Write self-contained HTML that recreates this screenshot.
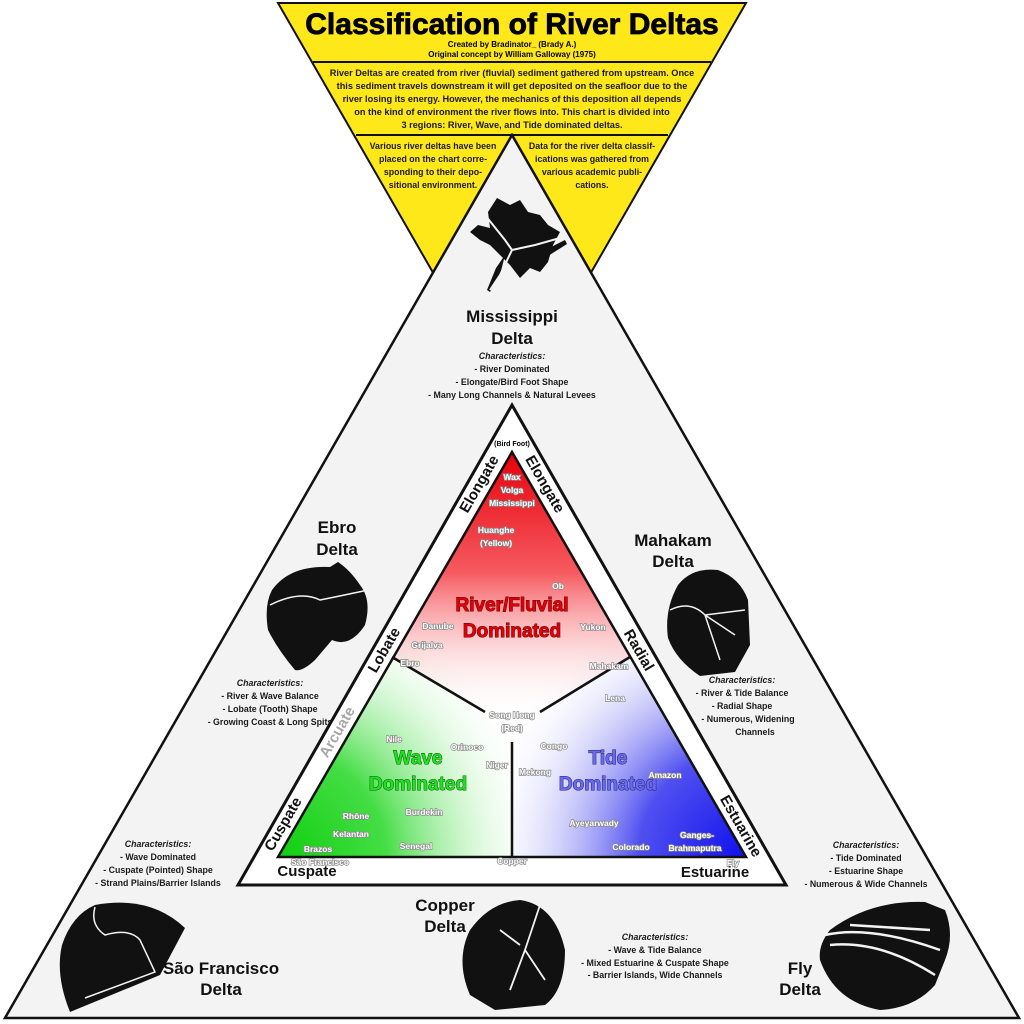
<!DOCTYPE html>
<html><head><meta charset="utf-8"><style>
html,body{margin:0;padding:0;background:#fff;}
svg{display:block;}
text{font-family:"Liberation Sans",sans-serif;font-weight:bold;}
.t{font-size:8.8px;text-anchor:middle;fill:#1a1a1a;}
.y{font-size:9.2px;text-anchor:middle;fill:#1a1a1a;}
.n{font-size:17px;text-anchor:middle;fill:#111;}
.r{font-size:8.5px;text-anchor:middle;fill:#fff;stroke:#8a8a8a;stroke-width:1.4;paint-order:stroke;}
.b{font-size:15px;text-anchor:middle;fill:#111;}
</style></head><body>
<svg width="1024" height="1024" viewBox="0 0 1024 1024" xmlns="http://www.w3.org/2000/svg">
<defs>
<linearGradient id="red" x1="0" y1="452" x2="0" y2="720" gradientUnits="userSpaceOnUse">
<stop offset="0" stop-color="#e8000a"/><stop offset="0.45" stop-color="#f55a60"/><stop offset="1" stop-color="#fff" stop-opacity="0"/></linearGradient>
<radialGradient id="grn" cx="278" cy="857" r="270" gradientUnits="userSpaceOnUse">
<stop offset="0" stop-color="#0fcf0f"/><stop offset="0.4" stop-color="#45dd45"/><stop offset="1" stop-color="#fff" stop-opacity="0"/></radialGradient>
<radialGradient id="blu" cx="746" cy="857" r="270" gradientUnits="userSpaceOnUse">
<stop offset="0" stop-color="#1010ee"/><stop offset="0.4" stop-color="#5050f0"/><stop offset="1" stop-color="#fff" stop-opacity="0"/></radialGradient>
<clipPath id="ct"><polygon points="512,452 746,857 278,857"/></clipPath>
</defs>
<rect width="1024" height="1024" fill="#fff"/>
<polygon points="278,3 746,3 512,410" fill="#ffe81a" stroke="#111" stroke-width="2"/>
<line x1="313" y1="62" x2="711" y2="62" stroke="#111" stroke-width="2"/>
<line x1="356" y1="135" x2="668" y2="135" stroke="#111" stroke-width="2"/>
<text x="512" y="34" text-anchor="middle" style="font-size:30px;font-weight:900;fill:#000;stroke:#000;stroke-width:0.8">Classification of River Deltas</text>
<text x="512" y="47" style="font-size:8px;text-anchor:middle">Created by Bradinator_ (Brady A.)</text>
<text x="512" y="57" style="font-size:8px;text-anchor:middle">Original concept by William Galloway (1975)</text>
<text class="y" x="512" y="76">River Deltas are created from river (fluvial) sediment gathered from upstream. Once</text>
<text class="y" x="512" y="89">this sediment travels downstream it will get deposited on the seafloor due to the</text>
<text class="y" x="512" y="102">river losing its energy. However, the mechanics of this deposition all depends</text>
<text class="y" x="512" y="115">on the kind of environment the river flows into. This chart is divided into</text>
<text class="y" x="512" y="128">3 regions: River, Wave, and Tide dominated deltas.</text>
<text class="t" x="433" y="149">Various river deltas have been</text>
<text class="t" x="433" y="162">placed on the chart corre-</text>
<text class="t" x="433" y="175">sponding to their depo-</text>
<text class="t" x="433" y="188">sitional environment.</text>
<text class="t" x="592" y="149">Data for the river delta classif-</text>
<text class="t" x="592" y="162">ications was gathered from</text>
<text class="t" x="592" y="175">various academic publi-</text>
<text class="t" x="592" y="188">cations.</text>
<polygon points="512,135 1019,1018 5,1018" fill="#f3f3f3" stroke="#111" stroke-width="2.5"/>
<g fill="#111">
<path d="M497,198 L510,205 L520,200 L528,212 L540,215 L548,225 L560,232 L553,245 L548,262 L540,272 L530,268 L520,278 L510,265 L500,255 L490,245 L480,240 L470,232 L478,225 L490,228 L488,212 Z"/>
<path d="M505,255 L500,275 L490,292 L487,290 L496,268 Z"/>
<path d="M545,250 L565,240 L567,244 L548,256 Z"/>
</g>
<path d="M485,215 L505,240 L512,250 L500,275 L490,290 M512,250 L535,245 L560,238" stroke="#f3f3f3" stroke-width="2" fill="none"/>
<text class="n" x="512" y="322">Mississippi</text>
<text class="n" x="512" y="344">Delta</text>
<text class="t" x="512" y="359" font-style="italic">Characteristics:</text>
<text class="t" x="512" y="372">- River Dominated</text>
<text class="t" x="512" y="385">- Elongate/Bird Foot Shape</text>
<text class="t" x="512" y="398">- Many Long Channels &amp; Natural Levees</text>
<text class="n" x="337" y="533">Ebro</text>
<text class="n" x="337" y="555">Delta</text>
<path d="M272,590 Q290,565 330,567 L338,562 Q350,570 360,585 Q372,600 365,625 Q350,648 332,640 L315,660 Q302,672 295,670 Q278,650 268,630 Q264,605 272,590 Z" fill="#111"/>
<path d="M270,605 Q300,590 320,600 Q345,595 368,590" stroke="#f3f3f3" stroke-width="1.5" fill="none"/>
<text class="t" x="270" y="686" font-style="italic">Characteristics:</text>
<text class="t" x="270" y="699">- River &amp; Wave Balance</text>
<text class="t" x="270" y="712">- Lobate (Tooth) Shape</text>
<text class="t" x="270" y="725">- Growing Coast &amp; Long Spits</text>
<text class="n" x="673" y="546">Mahakam</text>
<text class="n" x="673" y="567">Delta</text>
<path d="M718,570 Q692,567 678,585 Q664,610 668,638 Q676,660 700,676 L735,672 L750,645 L748,600 Q740,578 718,570 Z" fill="#111"/>
<path d="M670,610 Q690,600 705,615 L735,635 M705,615 L720,660 M705,615 L745,610" stroke="#f3f3f3" stroke-width="1.5" fill="none"/>
<text class="t" x="742" y="683" font-style="italic">Characteristics:</text>
<text class="t" x="742" y="696">- River &amp; Tide Balance</text>
<text class="t" x="742" y="709">- Radial Shape</text>
<text class="t" x="748" y="722">- Numerous, Widening</text>
<text class="t" x="755" y="735">Channels</text>
<text class="t" x="158" y="847" font-style="italic">Characteristics:</text>
<text class="t" x="158" y="860">- Wave Dominated</text>
<text class="t" x="158" y="873">- Cuspate (Pointed) Shape</text>
<text class="t" x="158" y="886">- Strand Plains/Barrier Islands</text>
<path d="M95,905 Q150,895 185,928 L160,975 L70,1012 Q55,975 62,945 Q72,915 95,905 Z" fill="#111"/>
<path d="M95,907 Q90,925 105,935 Q130,928 140,940 L155,972 L85,998" stroke="#f3f3f3" stroke-width="1.5" fill="none"/>
<text class="n" x="221" y="974">São Francisco</text>
<text class="n" x="221" y="995">Delta</text>
<text class="n" x="445" y="911">Copper</text>
<text class="n" x="445" y="932">Delta</text>
<path d="M520,900 Q555,905 565,950 Q565,990 545,1005 L495,1010 L470,995 Q455,960 470,930 Q490,902 520,900 Z" fill="#111"/>
<path d="M540,905 L525,950 L510,990 M525,950 L545,980 M500,930 L520,945" stroke="#f3f3f3" stroke-width="1.8" fill="none"/>
<text class="t" x="655" y="940" font-style="italic">Characteristics:</text>
<text class="t" x="655" y="953">- Wave &amp; Tide Balance</text>
<text class="t" x="655" y="966">- Mixed Estuarine &amp; Cuspate Shape</text>
<text class="t" x="655" y="978">- Barrier Islands, Wide Channels</text>
<text class="t" x="866" y="848" font-style="italic">Characteristics:</text>
<text class="t" x="866" y="861">- Tide Dominated</text>
<text class="t" x="866" y="874">- Estuarine Shape</text>
<text class="t" x="866" y="887">- Numerous &amp; Wide Channels</text>
<path d="M830,930 Q870,900 925,902 L945,910 Q955,935 945,960 L935,985 Q915,1008 880,1010 Q835,1002 820,960 Q818,945 830,930 Z" fill="#111"/>
<path d="M825,935 Q870,925 940,950 M830,945 Q880,940 935,975 M850,925 L930,930" stroke="#f3f3f3" stroke-width="2.5" fill="none"/>
<text class="n" x="800" y="974">Fly</text>
<text class="n" x="800" y="995">Delta</text>
<polygon points="512,405 786,885 238,885" fill="#fff" stroke="#111" stroke-width="3"/>
<g clip-path="url(#ct)">
<rect x="270" y="440" width="490" height="430" fill="#fff"/>
<rect x="270" y="600" width="242" height="270" fill="url(#grn)"/>
<rect x="512" y="600" width="250" height="270" fill="url(#blu)"/>
<polygon points="512,440 760,440 760,657 630,657 540,712 485,712 392,657 270,657 270,440" fill="url(#red)"/>
</g>
<polygon points="512,452 746,857 278,857" fill="none" stroke="#111" stroke-width="2.5"/>
<path d="M392,657 L485,712 M630,657 L540,712 M512,742 L512,857" stroke="#111" stroke-width="2.5" fill="none"/>
<text class="b" transform="translate(479,484) rotate(-60)" x="0" y="5">Elongate</text>
<text class="b" transform="translate(545,484) rotate(60)" x="0" y="5">Elongate</text>
<text x="512" y="446" style="font-size:7px;text-anchor:middle">(Bird Foot)</text>
<text class="b" transform="translate(384,650) rotate(-60)" x="0" y="5">Lobate</text>
<text class="b" transform="translate(337,732) rotate(-60)" x="0" y="5" style="fill:#a8a8a8">Arcuate</text>
<text class="b" transform="translate(283,824) rotate(-60)" x="0" y="5">Cuspate</text>
<text class="b" transform="translate(639,650) rotate(60)" x="0" y="5">Radial</text>
<text class="b" transform="translate(741,826) rotate(60)" x="0" y="5">Estuarine</text>
<text class="b" x="307" y="876">Cuspate</text>
<text class="b" x="715" y="877">Estuarine</text>
<g style="font-size:19px;text-anchor:middle;font-weight:bold;stroke-width:1;paint-order:stroke">
<text x="512" y="611" fill="#e0000a" stroke="#600">River/Fluvial</text>
<text x="512" y="637" fill="#e0000a" stroke="#600">Dominated</text>
<text x="418" y="764" fill="#22e022" stroke="#075a07">Wave</text>
<text x="418" y="790" fill="#22e022" stroke="#075a07">Dominated</text>
<text x="608" y="764" fill="#6a6af0" stroke="#202070">Tide</text>
<text x="608" y="790" fill="#6a6af0" stroke="#202070">Dominated</text>
</g>
<text class="r" x="512" y="480">Wax</text>
<text class="r" x="512" y="493">Volga</text>
<text class="r" x="512" y="506">Mississippi</text>
<text class="r" x="496" y="533">Huanghe</text>
<text class="r" x="496" y="546">(Yellow)</text>
<text class="r" x="558" y="589">Ob</text>
<text class="r" x="438" y="629">Danube</text>
<text class="r" x="593" y="630">Yukon</text>
<text class="r" x="427" y="648">Grijalva</text>
<text class="r" x="410" y="666">Ebro</text>
<text class="r" x="609" y="669">Mahakam</text>
<text class="r" x="512" y="718">Song Hong</text>
<text class="r" x="512" y="731">(Red)</text>
<text class="r" x="615" y="701">Lena</text>
<text class="r" x="394" y="742">Nile</text>
<text class="r" x="467" y="750">Orinoco</text>
<text class="r" x="554" y="749">Congo</text>
<text class="r" x="497" y="768">Niger</text>
<text class="r" x="535" y="775">Mekong</text>
<text class="r" x="665" y="778">Amazon</text>
<text class="r" x="424" y="815">Burdekin</text>
<text class="r" x="356" y="819">Rhône</text>
<text class="r" x="351" y="837">Kelantan</text>
<text class="r" x="416" y="849">Senegal</text>
<text class="r" x="594" y="826">Ayeyarwady</text>
<text class="r" x="631" y="850">Colorado</text>
<text class="r" x="697" y="838">Ganges-</text>
<text class="r" x="695" y="851">Brahmaputra</text>
<text class="r" x="318" y="852">Brazos</text>
<text class="r" x="320" y="865">São Francisco</text>
<text class="r" x="512" y="864">Copper</text>
<text class="r" x="733" y="866">Fly</text>
</svg>
</body></html>
